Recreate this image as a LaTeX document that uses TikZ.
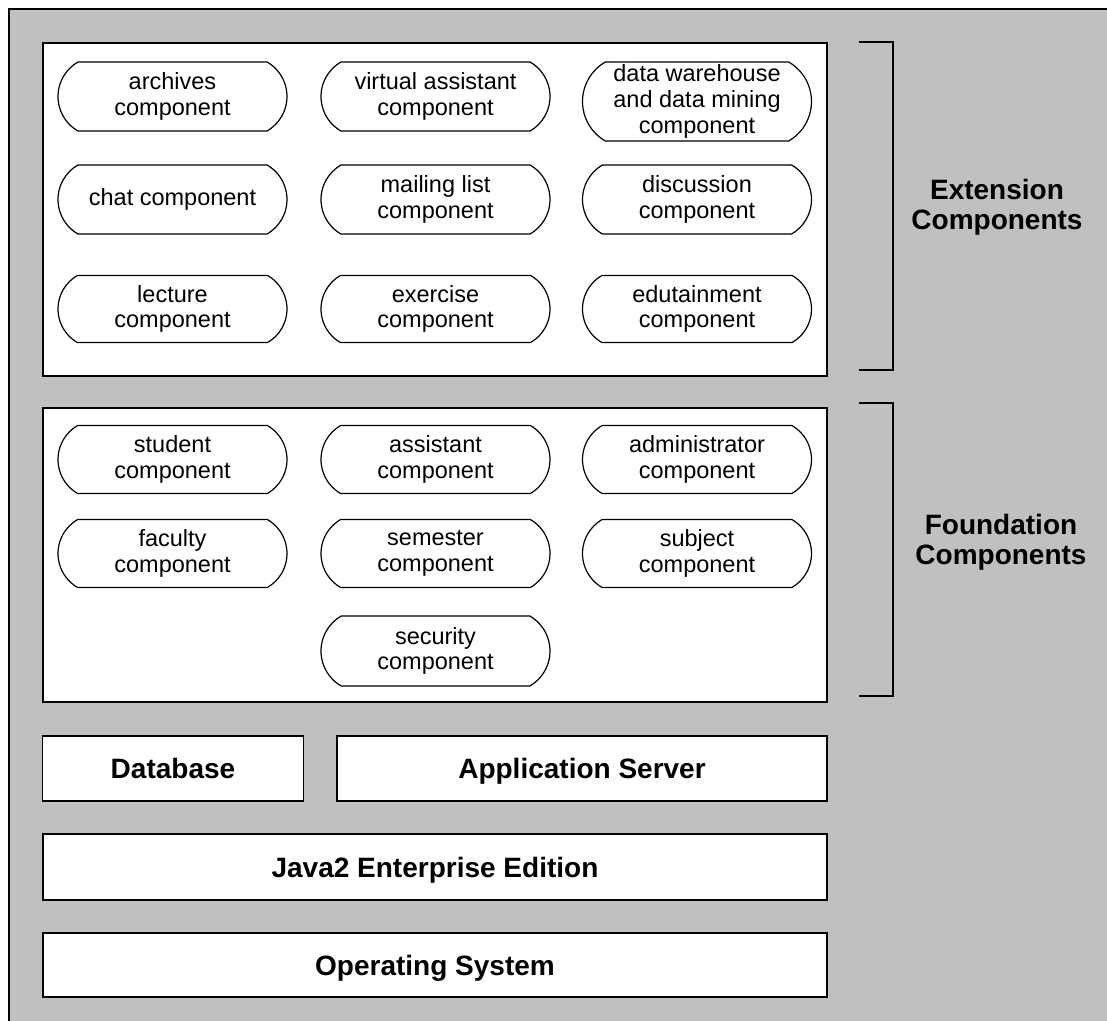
\documentclass[tikz,border=0pt]{standalone}
\usepackage{fontspec}
\setmainfont{Liberation Sans}
\usetikzlibrary{shapes.misc}
\definecolor{panelgray}{RGB}{192,192,192}
\tikzset{
  layerbox/.style={draw=black, fill=white, line width=1.4bp, rectangle,
    inner sep=0pt, text height=22bp, text depth=2bp,
    font=\fontsize{28bp}{30bp}\selectfont\bfseries},
  comp/.style={draw=black, fill=white, line width=1.2bp, rounded rectangle,
    rounded rectangle arc length=120, minimum width=231bp, minimum height=68bp,
    inner sep=1bp, align=center, font=\fontsize{23.5bp}{25.7bp}\selectfont},
  grouplabel/.style={align=center, inner sep=0pt,
    font=\fontsize{28bp}{30bp}\selectfont\bfseries},
  bracket/.style={draw=black, line width=1.4bp}
}
\begin{document}
\begin{tikzpicture}[x=1bp,y=-1bp]
  \useasboundingbox (0,0) rectangle (1107,1021);
  % background panel
  \fill[panelgray] (9,9) rectangle (1107,1021);
  \draw[line width=1.4bp] (9,1021) -- (9,9) -- (1107,9);

  % layer containers
  \node[layerbox, minimum width=784bp, minimum height=333bp] (ext) at (435,209.5) {};
  \node[layerbox, minimum width=784bp, minimum height=294bp] (found) at (435,555) {};
  \node[layerbox, minimum width=261bp, minimum height=65bp] (db) at (173,768.5) {Database};
  \node[layerbox, minimum width=490bp, minimum height=65bp] (app) at (582,768.5) {Application Server};
  \node[layerbox, minimum width=784bp, minimum height=66bp] (j2ee) at (435,867) {Java2 Enterprise Edition};
  \node[layerbox, minimum width=784bp, minimum height=64bp] (os) at (435,965) {Operating System};

  % extension components
  \node[comp, minimum height=69bp] (archives) at (172.5,96.5) {archives\\component};
  \node[comp, minimum height=69bp] (virtual) at (435.5,96.5) {virtual assistant\\component};
  \node[comp, minimum height=79bp] (dwh) at (697,101.5) {data warehouse\\and data mining\\component};
  \node[comp, minimum height=69bp] (chat) at (172.5,199.5) {chat component};
  \node[comp, minimum height=69bp] (mailing) at (435.5,199.5) {mailing list\\component};
  \node[comp, minimum height=69bp] (discussion) at (697,199.5) {discussion\\component};
  \node[comp, minimum height=67bp] (lecture) at (172.5,309) {lecture\\component};
  \node[comp, minimum height=67bp] (exercise) at (435.5,309) {exercise\\component};
  \node[comp, minimum height=67bp] (edutain) at (697,309) {edutainment\\component};

  % foundation components
  \node[comp] (student) at (172.5,459.5) {student\\component};
  \node[comp] (assistant) at (435.5,459.5) {assistant\\component};
  \node[comp] (admin) at (697,459.5) {administrator\\component};
  \node[comp] (faculty) at (172.5,553.5) {faculty\\component};
  \node[comp] (semester) at (435.5,553.5) {semester\\component};
  \node[comp] (subject) at (697,553.5) {subject\\component};
  \node[comp, minimum height=70bp] (security) at (435.5,651) {security\\component};

  % group brackets and labels
  \draw[bracket] (859,42) -- (893,42) -- (893,370) -- (859,370);
  \draw[bracket] (859,403) -- (893,403) -- (893,696) -- (859,696);
  \node[grouplabel] (extlabel) at (997,207) {Extension\\Components};
  \node[grouplabel] (foundlabel) at (1001,542) {Foundation\\Components};
\end{tikzpicture}
\end{document}
